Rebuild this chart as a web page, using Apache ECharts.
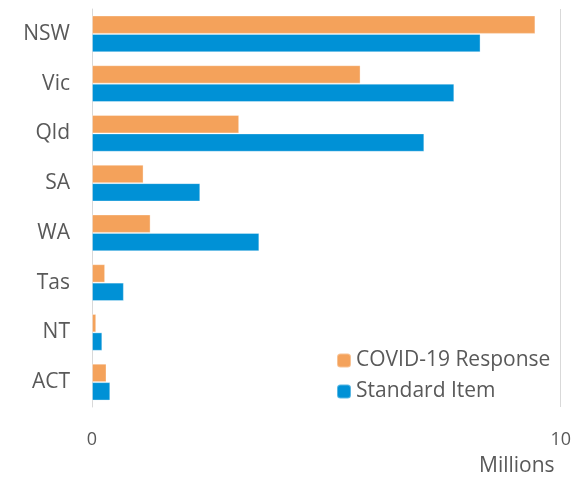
<!DOCTYPE html>
<html>
<head>
<meta charset="utf-8">
<script src="https://cdn.jsdelivr.net/npm/echarts@6/dist/echarts.min.js"></script>
<style>html,body{margin:0;padding:0;background:#fff}#c{width:574px;height:483px}</style>
</head>
<body>
<div id="c"></div>
<script>
const categories = ['NSW', 'Vic', 'Qld', 'SA', 'WA', 'Tas', 'NT', 'ACT'];
const covidResponse = [9.46, 5.73, 3.14, 1.10, 1.25, 0.28, 0.09, 0.31];
const standardItem = [8.29, 7.73, 7.09, 2.31, 3.57, 0.68, 0.22, 0.39];
const xTicks = { min: 0, max: 10, interval: 10 };
const unitLabel = 'Millions';

const FONT = 'Open Sans';
const chart = echarts.init(document.getElementById('c'), null, { renderer: 'canvas' });
chart.setOption({
  animation: false,
  backgroundColor: '#fff',
  grid: { left: 92, right: 10, top: 9, bottom: 76, containLabel: false },
  legend: {
    orient: 'vertical',
    left: 331, top: 345,
    itemWidth: 14, itemHeight: 14, itemGap: 10,
    textStyle: { fontFamily: FONT, fontSize: 21, color: '#595959' },
    data: ['COVID-19 Response', 'Standard Item']
  },
  xAxis: {
    type: 'value',
    min: xTicks.min, max: xTicks.max, interval: xTicks.interval,
    axisLine: { show: false },
    axisTick: { show: false },
    splitLine: { show: true, lineStyle: { color: '#d9d9d9', width: 1 } },
    axisLabel: { margin: 24, fontFamily: FONT, fontSize: 18, color: '#595959' }
  },
  yAxis: {
    type: 'category',
    inverse: true,
    data: categories,
    axisLine: { show: true, lineStyle: { color: '#d9d9d9', width: 1 } },
    axisTick: { show: false },
    axisLabel: { margin: 22, fontFamily: FONT, fontSize: 21, color: '#595959' }
  },
  graphic: [{
    type: 'text', left: 479, top: 456,
    style: { text: unitLabel, font: '21px "Open Sans"', fill: '#595959' }
  }],
  series: [
    {
      name: 'COVID-19 Response', type: 'bar', data: covidResponse,
      barGap: '0%', barCategoryGap: '26%',
      itemStyle: { color: '#F4A25B', borderColor: 'rgba(255,255,255,0.35)', borderWidth: 1 }
    },
    {
      name: 'Standard Item', type: 'bar', data: standardItem,
      barGap: '0%', barCategoryGap: '26%',
      itemStyle: { color: '#0091D6', borderColor: 'rgba(255,255,255,0.35)', borderWidth: 1 }
    }
  ]
});
</script>
</body>
</html>
